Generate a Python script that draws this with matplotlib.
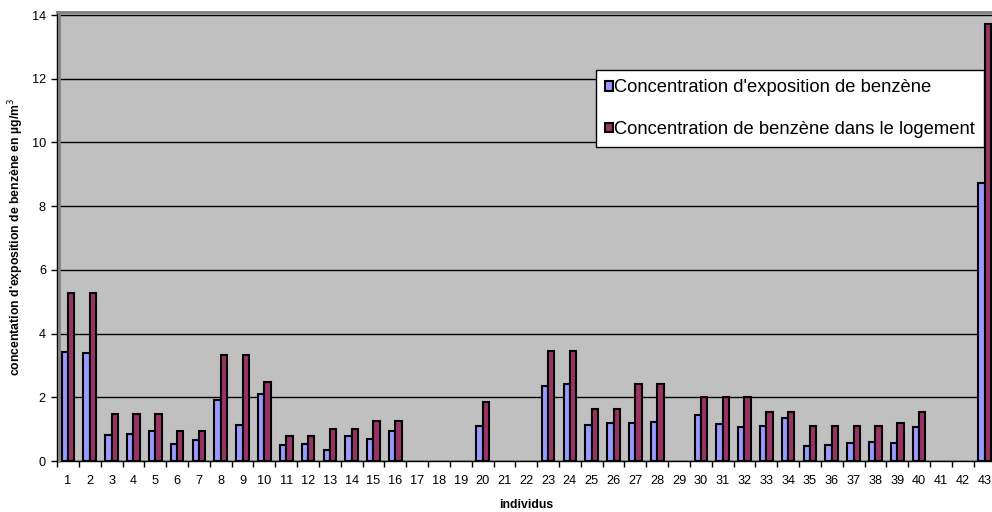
"""Benzene exposure vs indoor concentration per individual, Excel-style bar chart."""

import matplotlib

matplotlib.use("Agg")
import matplotlib.pyplot as plt
import numpy as np
from matplotlib.ticker import MultipleLocator

plt.rcParams["font.family"] = ["Liberation Sans", "DejaVu Sans"]

individus = list(range(1, 44))
# None = no measurement for that individual
exposition = [3.43, 3.40, 0.81, 0.86, 0.93, 0.53, 0.65, 1.90, 1.12, 2.11,
              0.51, 0.54, 0.33, 0.77, 0.70, 0.93, None, None, None, 1.11,
              None, None, 2.35, 2.41, 1.13, 1.20, 1.18, 1.21, None, 1.44,
              1.17, 1.06, 1.11, 1.34, 0.48, 0.50, 0.55, 0.60, 0.55, 1.07,
              None, None, 8.72]
logement = [5.26, 5.26, 1.49, 1.49, 1.49, 0.95, 0.95, 3.34, 3.34, 2.49,
            0.79, 0.79, 0.99, 0.99, 1.25, 1.25, None, None, None, 1.86,
            None, None, 3.45, 3.45, 1.63, 1.63, 2.42, 2.42, None, 2.02,
            2.02, 2.02, 1.53, 1.53, 1.09, 1.09, 1.09, 1.09, 1.18, 1.53,
            None, None, 13.71]

label_expo = "Concentration d'exposition de benzène"
label_loge = "Concentration de benzène dans le logement"


def _present(xs, values):
    x = np.array(xs, dtype=float)
    v = np.array([np.nan if val is None else val for val in values], dtype=float)
    keep = ~np.isnan(v)
    return x[keep], v[keep]


fig = plt.figure(figsize=(9.92, 5.12), dpi=100)
# the plot area runs a little past the right edge, as in the original export
ax = fig.add_axes([0.0575, 0.0996, 0.946, 0.8766])
ax.set_facecolor("#C0C0C0")

width = 0.29
x_e, v_e = _present(individus, exposition)
x_l, v_l = _present(individus, logement)
ax.bar(x_e - width / 2, v_e, width, color="#9999FF", edgecolor="black",
       linewidth=1.5, label=label_expo, zorder=3)
ax.bar(x_l + width / 2, v_l, width, color="#993366", edgecolor="black",
       linewidth=1.5, label=label_loge, zorder=3)

ax.set_xlim(0.5, len(individus) + 0.5)
ax.set_ylim(0, 14.09)
ax.yaxis.set_major_locator(MultipleLocator(2))
ax.grid(axis="y", color="black", linewidth=1.0, zorder=1)

ax.set_xticks(individus)
ax.set_xticklabels([str(i) for i in individus])
ax.set_xticks(np.arange(0.5, len(individus) + 1), minor=True)
ax.tick_params(axis="x", which="major", length=0, labelsize=9.2, pad=10)
ax.tick_params(axis="x", which="minor", length=4, width=1, direction="out")
ax.tick_params(axis="y", length=4, width=1, labelsize=9.2, pad=4)

for side in ("left", "bottom"):
    ax.spines[side].set_color("black")
    ax.spines[side].set_linewidth(1.0)
ax.spines["top"].set_color("#808080")
ax.spines["top"].set_linewidth(2.0)
ax.spines["right"].set_visible(False)
ax.plot([0.0025, 0.0025], [0, 1], transform=ax.transAxes, color="#808080",
        linewidth=2.0, clip_on=False, zorder=4)

ax.set_xlabel("individus", fontsize=8.8, fontweight="bold", labelpad=9)
ax.set_ylabel("concentation d'exposition de benzène en µg/m$^3$",
              fontsize=8.8, fontweight="bold", labelpad=4)

leg = ax.legend(loc="upper left", bbox_to_anchor=(0.601, 0.863),
                bbox_transform=fig.transFigure, fontsize=13.2,
                frameon=True, fancybox=False, framealpha=1,
                edgecolor="black", facecolor="white",
                handlelength=0.42, handleheight=0.42, handletextpad=0.05,
                labelspacing=1.35, borderpad=0.5, borderaxespad=0)
leg.get_frame().set_linewidth(1.0)

fig.savefig("out.png", dpi=100)
